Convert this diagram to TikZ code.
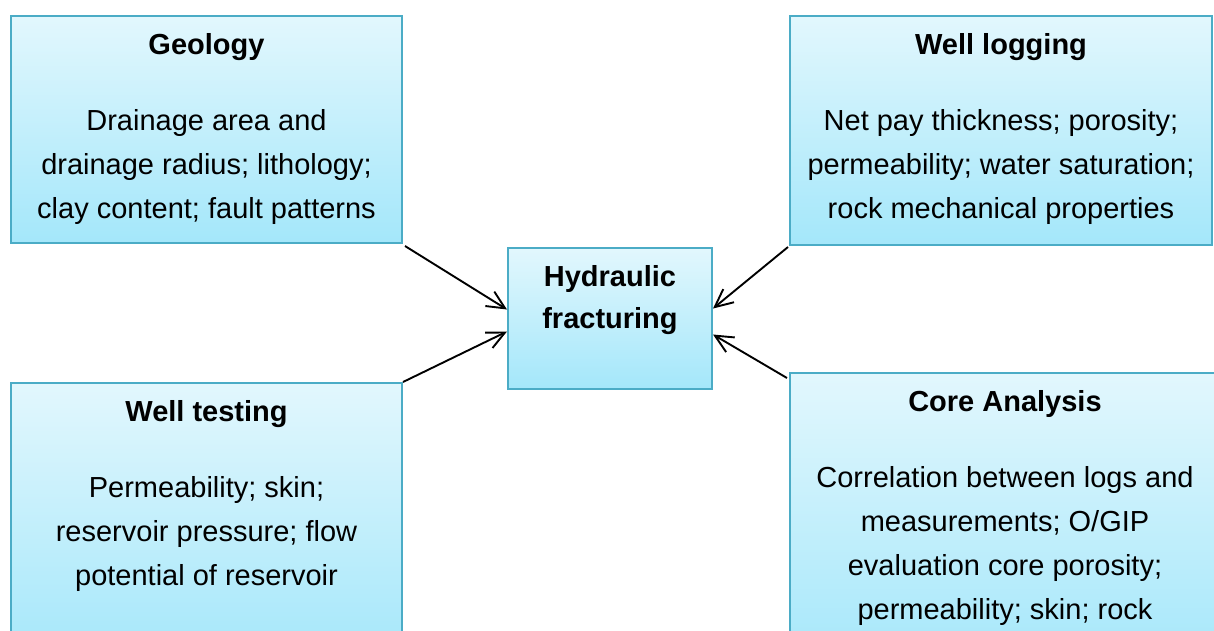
\documentclass[tikz,border=0pt]{standalone}
\usepackage{fontspec}
\setmainfont{Liberation Sans}
\usetikzlibrary{arrows.meta}
\definecolor{boxline}{RGB}{75,172,198}
\definecolor{boxtop}{RGB}{226,247,253}
\definecolor{boxbot}{RGB}{164,231,250}
\newcommand{\panel}[4]{\parbox[c][#2pt][t]{#1pt}{\fontsize{29}{44}\selectfont\centering
  \rule{0pt}{38pt}\textbf{#3}\\[32pt]#4\par}}
\begin{document}
\begin{tikzpicture}[x=1pt,y=1pt,
  infobox/.style={draw=boxline, line width=2pt, top color=boxtop, bottom color=boxbot,
    inner sep=0pt, anchor=north west},
  feed/.style={-{Straight Barb[length=18pt,width=17pt]}, line width=1.9pt}]
\useasboundingbox (0,-630) rectangle (1214,0);
% the five boxes
\node[infobox] (geo) at (10,-15) {\panel{391}{227}{Geology}{Drainage area and\\drainage radius; lithology;\\clay content; fault patterns}};
\node[infobox] (wl) at (789,-15) {\panel{422}{229}{Well logging}{Net pay thickness; porosity;\\permeability; water saturation;\\rock mechanical properties}};
\node[infobox] (hf) at (507,-247) {\parbox[c][141pt][t]{204pt}{\fontsize{29}{42}\selectfont\centering
  \rule{0pt}{38pt}\textbf{Hydraulic}\\\textbf{fracturing}\par}};
\node[infobox] (wt) at (10,-382) {\panel{391}{280}{Well testing}{Permeability; skin;\\reservoir pressure; flow\\potential of reservoir}};
\node[infobox] (ca) at (789,-372) {\panel{430}{300}{Core Analysis}{Correlation between logs and\\measurements; O/GIP\\evaluation core porosity;\\permeability; skin; rock}};
% arrows into the centre
\draw[feed] ([shift={(2,-2)}]geo.south east) -- ([yshift=9]hf.west);
\draw[feed] (wt.north east) -- ([yshift=-13]hf.west);
\draw[feed] ([shift={(-1,-1)}]wl.south west) -- ([yshift=10]hf.east);
\draw[feed] ([shift={(-2,-6)}]ca.north west) -- ([yshift=-16]hf.east);
\end{tikzpicture}
\end{document}
